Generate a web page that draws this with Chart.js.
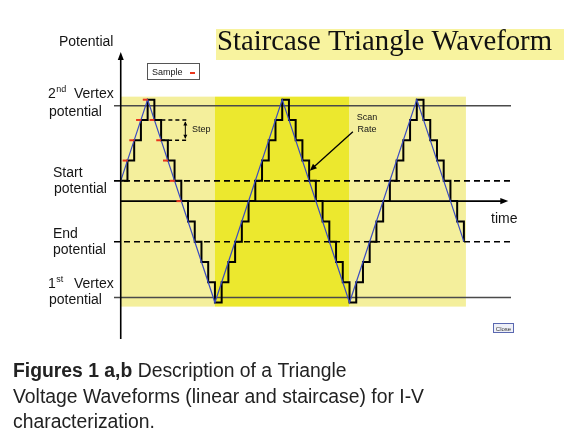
<!DOCTYPE html>
<html><head><meta charset="utf-8">
<script src="https://cdn.jsdelivr.net/npm/chart.js@4/dist/chart.umd.min.js"></script>
<style>html,body{margin:0;padding:0;background:#fff;overflow:hidden}canvas{display:block}</style>
</head><body>
<canvas id="c" width="567" height="433"></canvas>
<script>
// ---- data (time in step units, potential in step-height units; start potential = 0) ----
const stairTimes  = [0,1,2,3,4,5,6,7,8,9,10,11,12,13,14,15,16,17,18,19,20,21,22,23,24,25,26,27,28,29,30,31,32,33,34,35,36,37,38,39,40,41,42,43,44,45,46,47,48,49,50,51];
const stairLevels = [0,1,2,3,4,3,2,1,0,-1,-2,-3,-4,-5,-6,-5,-4,-3,-2,-1,0,1,2,3,4,3,2,1,0,-1,-2,-3,-4,-5,-6,-5,-4,-3,-2,-1,0,1,2,3,4,3,2,1,0,-1,-2,-3];
const triangleTimes  = [0,4,14,24,34,44,51];
const triangleLevels = [0,4,-6,4,-6,4,-3];
const sampleTimes  = [0.65,1.65,2.65,3.65,4.65,5.65,6.65,7.65,8.65];
const sampleLevels = [1,2,3,4,3,2,1,0,-1];
const vertex2Level = 3.7;
const startLevel = 0;
const endLevel = -3;
const vertex1Level = -5.75;
const timeAxisLevel = -1;
const refSpan = [-1, 58];
const timeAxisSpan = [0, 57];
const regionFrom = [0, 14, 34];
const regionTo   = [14, 34, 51.3];
const regionKind = ['light', 'bright', 'light'];
const regionTop = 4.15, regionBottom = -6.2;

const pts = (xs, ys) => xs.map((v, i) => ({x: v, y: ys[i]}));
const C = {light:'#f4ef9c', bright:'#ece82e', titleBox:'#f8f39f', text:'#151515'};

function arrowHead(ctx, x1, y1, x2, y2, len, half) {
  const a = Math.atan2(y2 - y1, x2 - x1);
  ctx.beginPath();
  ctx.moveTo(x2, y2);
  ctx.lineTo(x2 - len*Math.cos(a) + half*Math.sin(a), y2 - len*Math.sin(a) - half*Math.cos(a));
  ctx.lineTo(x2 - len*Math.cos(a) - half*Math.sin(a), y2 - len*Math.sin(a) + half*Math.cos(a));
  ctx.closePath(); ctx.fill();
}
function fitText(ctx, str, x, y, target) {
  const w = ctx.measureText(str).width;
  const sx = target / w;
  ctx.save(); ctx.translate(x, y); ctx.scale(sx, 1); ctx.fillText(str, 0, 0); ctx.restore();
  return sx;
}

const annot = {
  id: 'annot',
  beforeDatasetsDraw(chart) {
    const {ctx, scales: {x, y}} = chart;
    ctx.save();
    regionFrom.forEach((f, i) => {
      ctx.fillStyle = C[regionKind[i]];
      const x0 = x.getPixelForValue(f), x1 = x.getPixelForValue(regionTo[i]);
      const y0 = y.getPixelForValue(regionTop), y1 = y.getPixelForValue(regionBottom);
      ctx.fillRect(x0, y0, x1 - x0, y1 - y0);
    });
    ctx.restore();
  },
  afterDatasetsDraw(chart) {
    const {ctx, scales: {x, y}} = chart;
    const X = v => x.getPixelForValue(v), Y = v => y.getPixelForValue(v);
    ctx.save();
    ctx.fillStyle = '#000'; ctx.strokeStyle = '#000';
    // y axis with arrow
    ctx.lineWidth = 1.6;
    ctx.beginPath(); ctx.moveTo(X(0), Y(-7.8)); ctx.lineTo(X(0), Y(6.0)); ctx.stroke();
    arrowHead(ctx, X(0), Y(0), X(0), Y(6.35), 8, 3);
    // time axis arrow head
    arrowHead(ctx, X(56), Y(timeAxisLevel), X(57.6), Y(timeAxisLevel), 8, 3.2);
    // step annotation
    ctx.lineWidth = 1.4; ctx.setLineDash([4, 3]);
    ctx.beginPath();
    ctx.moveTo(X(5), Y(3)); ctx.lineTo(X(9.75), Y(3));
    ctx.moveTo(X(6), Y(2)); ctx.lineTo(X(9.75), Y(2));
    ctx.stroke();
    ctx.setLineDash([]);
    ctx.lineWidth = 1;
    ctx.beginPath(); ctx.moveTo(X(9.6), Y(2.9)); ctx.lineTo(X(9.6), Y(2.1)); ctx.stroke();
    arrowHead(ctx, X(9.6), Y(2.5), X(9.6), Y(2.93), 4, 2);
    arrowHead(ctx, X(9.6), Y(2.5), X(9.6), Y(2.07), 4, 2);
    ctx.font = '9px "Liberation Sans", Arial, sans-serif';
    ctx.fillStyle = C.text;
    ctx.fillText('Step', X(10.6), Y(2.4));
    // scan rate arrow
    ctx.lineWidth = 1.3;
    ctx.beginPath(); ctx.moveTo(X(34.5), Y(2.42)); ctx.lineTo(X(28.4), Y(0.6)); ctx.stroke();
    ctx.fillStyle = '#000';
    arrowHead(ctx, X(34.5), Y(2.42), X(28.1), Y(0.5), 7, 3);
    ctx.fillStyle = C.text;
    ctx.textAlign = 'center';
    ctx.fillText('Scan', X(36.6), Y(3.0));
    ctx.fillText('Rate', X(36.6), Y(2.4));
    ctx.textAlign = 'left';

    // sample legend box
    ctx.fillStyle = '#fff'; ctx.strokeStyle = '#555'; ctx.lineWidth = 1;
    ctx.fillRect(147, 63, 53, 16); ctx.strokeRect(147.5, 63.5, 52, 16);
    ctx.fillStyle = C.text; ctx.font = '9px "Liberation Sans", Arial, sans-serif';
    ctx.fillText('Sample', 152, 75);
    ctx.strokeStyle = '#e8361c'; ctx.lineWidth = 2;
    ctx.beginPath(); ctx.moveTo(190, 73); ctx.lineTo(195, 73); ctx.stroke();

    // close button
    ctx.fillStyle = '#eef0f8'; ctx.strokeStyle = '#5a68b0'; ctx.lineWidth = 1;
    ctx.fillRect(493, 323, 20, 9); ctx.strokeRect(493.5, 323.5, 20, 9);
    ctx.fillStyle = '#333'; ctx.font = '6px "Liberation Sans", Arial, sans-serif';
    ctx.textAlign = 'center'; ctx.fillText('Close', 503.5, 330.5); ctx.textAlign = 'left';

    // axis labels
    ctx.fillStyle = C.text;
    ctx.font = '14px "Liberation Sans", Arial, sans-serif';
    ctx.fillText('Potential', 59, 46);
    ctx.fillText('time', 491, 223);
    const sup = (base, s, rest, xx, yy) => {
      ctx.font = '14px "Liberation Sans", Arial, sans-serif';
      ctx.fillText(base, xx, yy);
      const w = ctx.measureText(base).width;
      ctx.font = '9px "Liberation Sans", Arial, sans-serif';
      ctx.fillText(s, xx + w + 0.5, yy - 6);
      ctx.font = '14px "Liberation Sans", Arial, sans-serif';
      ctx.fillText(rest, 74, yy);
    };
    sup('2', 'nd', 'Vertex', 48, 98);
    ctx.fillText('potential', 49, 116);
    ctx.fillText('Start', 53, 177);
    ctx.fillText('potential', 54, 193);
    ctx.fillText('End', 53, 238);
    ctx.fillText('potential', 53, 254);
    sup('1', 'st', 'Vertex', 48, 288);
    ctx.fillText('potential', 49, 304);

    // title
    ctx.fillStyle = C.titleBox;
    ctx.fillRect(216, 29, 348, 31);
    ctx.fillStyle = '#111';
    ctx.font = '28.5px "Liberation Serif", "Times New Roman", serif';
    fitText(ctx, 'Staircase Triangle Waveform', 217, 50, 335);

    // caption
    ctx.fillStyle = '#222';
    ctx.font = '19.5px "Liberation Sans", Arial, sans-serif';
    const l2 = 'Voltage Waveforms (linear and staircase) for I-V';
    const sx = 411 / ctx.measureText(l2).width;
    const draw = (str, xx, yy) => { ctx.save(); ctx.translate(xx, yy); ctx.scale(sx, 1); ctx.fillText(str, 0, 0); ctx.restore(); return ctx.measureText(str).width * sx; };
    ctx.font = 'bold 19.5px "Liberation Sans", Arial, sans-serif';
    const wb = draw('Figures 1 a,b', 13, 377);
    ctx.font = '19.5px "Liberation Sans", Arial, sans-serif';
    const wsp = ctx.measureText(' ').width * sx;
    draw('Description of a Triangle', 13 + wb + wsp, 377);
    draw(l2, 13, 403);
    draw('characterization.', 13, 428);
    ctx.restore();
  }
};

new Chart(document.getElementById('c'), {
  type: 'line',
  data: {
    datasets: [
      {label: 'Sample', data: pts(sampleTimes, sampleLevels), showLine: false, pointStyle: 'line', pointRadius: 2.5, pointBorderColor: '#e8361c', pointBorderWidth: 2, order: 0},
      {label: 'Linear', data: pts(triangleTimes, triangleLevels), borderColor: '#3b4cc0', borderWidth: 1.2, pointRadius: 0, order: 1},
      {label: 'Staircase', data: pts(stairTimes, stairLevels), stepped: 'before', borderColor: '#000', borderWidth: 2, pointRadius: 0, order: 2},
      {label: '2nd vertex', data: pts(refSpan, [vertex2Level, vertex2Level]), borderColor: '#4a4a4a', borderWidth: 1.6, pointRadius: 0, order: 3},
      {label: 'Start', data: pts(refSpan, [startLevel, startLevel]), borderColor: '#000', borderWidth: 1.6, borderDash: [6, 4], pointRadius: 0, order: 3},
      {label: 'End', data: pts(refSpan, [endLevel, endLevel]), borderColor: '#000', borderWidth: 1.6, borderDash: [6, 4], pointRadius: 0, order: 3},
      {label: '1st vertex', data: pts(refSpan, [vertex1Level, vertex1Level]), borderColor: '#4a4a4a', borderWidth: 1.6, pointRadius: 0, order: 3},
      {label: 'time', data: pts(timeAxisSpan, [timeAxisLevel, timeAxisLevel]), borderColor: '#000', borderWidth: 1.6, pointRadius: 0, order: 3}
    ]
  },
  options: {
    responsive: false, animation: false, devicePixelRatio: 1,
    layout: {padding: {left: 114, right: 56, top: 51, bottom: 98}},
    scales: {
      x: {type: 'linear', min: -1, max: 58, display: false},
      y: {type: 'linear', min: -7.6, max: 6.4, display: false}
    },
    plugins: {legend: {display: false}, tooltip: {enabled: false}},
    elements: {line: {tension: 0}}
  },
  plugins: [annot]
});
</script>
</body></html>
